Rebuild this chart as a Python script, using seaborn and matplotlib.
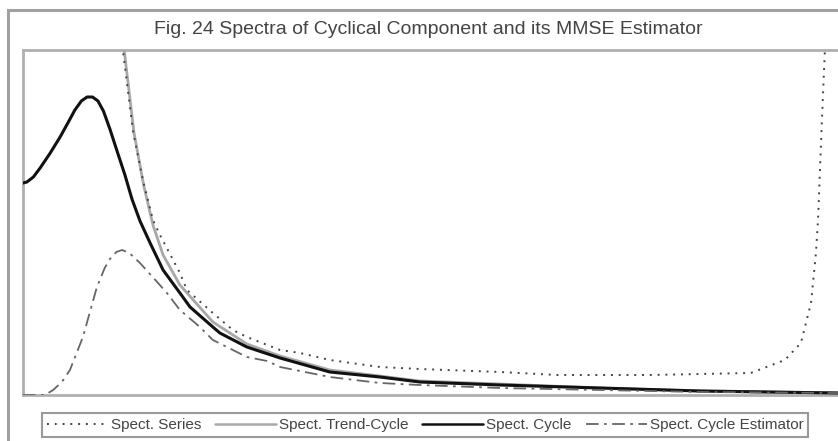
import matplotlib
matplotlib.use("Agg")
import matplotlib.pyplot as plt
import seaborn as sns
import pandas as pd
from matplotlib.patches import Rectangle
from matplotlib.lines import Line2D

# ---- data (frequency in radians, spectral density in arbitrary units) ----
series_x = [0.370, 0.385, 0.424, 0.463, 0.501, 0.528, 0.605, 0.632, 0.732, 0.809, 0.863,
            0.991, 1.068, 1.183, 1.376, 1.530, 1.839, 2.062, 2.417, 2.806, 2.937,
            2.999, 3.038, 3.057, 3.065, 3.080, 3.091, 3.100]
series_y = [4.00, 3.45, 2.64, 2.14, 1.75, 1.60, 1.22, 1.05, 0.82, 0.65, 0.58,
            0.45, 0.42, 0.35, 0.28, 0.26, 0.23, 0.20, 0.20, 0.22, 0.35,
            0.52, 0.92, 1.42, 1.75, 2.75, 3.42, 4.00]

trend_x = [0.375, 0.390, 0.428, 0.465, 0.501, 0.540, 0.605, 0.732, 0.863, 0.991,
           1.183, 1.376, 1.530, 1.839, 2.224, 2.610, 3.142]
trend_y = [4.00, 3.45, 2.62, 2.10, 1.70, 1.40, 1.10, 0.73, 0.51, 0.39,
           0.25, 0.19, 0.14, 0.11, 0.07, 0.04, 0.02]

cycle_x = [0.000, 0.015, 0.040, 0.066, 0.105, 0.143, 0.175, 0.200, 0.225, 0.247, 0.268,
           0.289, 0.310, 0.335, 0.360, 0.393, 0.420, 0.451, 0.490, 0.540, 0.605,
           0.644, 0.732, 0.759, 0.863, 0.991, 1.183, 1.376, 1.530, 1.839, 2.224,
           2.610, 3.142]
cycle_y = [2.12, 2.13, 2.18, 2.27, 2.42, 2.58, 2.73, 2.85, 2.94, 2.98, 2.98,
           2.94, 2.84, 2.66, 2.46, 2.20, 1.96, 1.74, 1.52, 1.25, 1.02,
           0.88, 0.68, 0.62, 0.48, 0.37, 0.23, 0.18, 0.13, 0.10, 0.07,
           0.04, 0.02]

est_x = [0.000, 0.085, 0.116, 0.150, 0.181, 0.231, 0.285, 0.315, 0.335, 0.360, 0.382,
         0.410, 0.451, 0.500, 0.555, 0.605, 0.682, 0.732, 0.863, 0.941, 0.991,
         1.183, 1.376, 1.530, 1.839, 2.224, 2.610, 3.142]
est_y = [0.00, 0.00, 0.05, 0.13, 0.25, 0.58, 1.08, 1.27, 1.36, 1.43, 1.45,
         1.42, 1.32, 1.18, 1.02, 0.85, 0.68, 0.55, 0.38, 0.34, 0.28,
         0.18, 0.12, 0.10, 0.07, 0.05, 0.03, 0.02]

labels = ["Spect. Series", "Spect. Trend-Cycle", "Spect. Cycle", "Spect. Cycle Estimator"]
title = "Fig. 24 Spectra of Cyclical Component and its MMSE Estimator"

sns.set_style("white")
plt.rcParams['font.family'] = ['Liberation Sans', 'DejaVu Sans']

W, H = 838, 441
fig = plt.figure(figsize=(W / 100, H / 100), dpi=100)
ax = fig.add_axes([23 / W, 1 - 395 / H, 1 - 23 / W, (395 - 50) / H])

frames = [
    (pd.DataFrame({"f": series_x, "s": series_y}), dict(color="#444444", lw=1.4, dashes=(1, 3), z=5)),
    (pd.DataFrame({"f": trend_x, "s": trend_y}), dict(color="#a8a8a8", lw=2.0, z=3)),
    (pd.DataFrame({"f": cycle_x, "s": cycle_y}), dict(color="#111111", lw=2.2, z=4)),
    (pd.DataFrame({"f": est_x, "s": est_y}), dict(color="#666666", lw=1.3, dashes=(7, 3, 1.5, 3), z=4)),
]
handles = []
for (df, st), lab in zip(frames, labels):
    kw = dict(color=st["color"], linewidth=st["lw"])
    sns.lineplot(data=df, x="f", y="s", ax=ax, sort=False, estimator=None, **kw)
    ln = ax.lines[-1]
    ln.set_zorder(st["z"])
    if "dashes" in st:
        ln.set_dashes(st["dashes"])
    h = Line2D([], [], color=st["color"], linewidth=st["lw"] if st["lw"] < 2 else 1.8)
    if "dashes" in st:
        h.set_dashes(st["dashes"])
    handles.append(h)

ax.set_xlim(0, 3.142)
ax.set_ylim(0, 3.45)
ax.set_xticks([])
ax.set_yticks([])
ax.set_xlabel("")
ax.set_ylabel("")
for side in ["left", "bottom", "top"]:
    ax.spines[side].set_color("#b0b0b0")
    ax.spines[side].set_linewidth(2.0)
ax.spines["right"].set_visible(False)

# outer frame
fig.patches.append(Rectangle((8 / W, -0.2), 1.2, 1.2 - 10 / H, transform=fig.transFigure,
                             fill=False, edgecolor="#a0a0a0", linewidth=2.2, zorder=0))

fig.text(428 / W, 1 - 30 / H, title, ha="center", va="center", fontsize=14, color="#444444")

leg = fig.legend(handles, labels, loc="center", bbox_to_anchor=(425 / W, 1 - 425 / H),
                 ncol=4, frameon=True, fancybox=False, fontsize=11, handlelength=4.0,
                 handletextpad=0.2, columnspacing=0.9, borderpad=0.3, labelcolor="#444444")
leg.get_frame().set_edgecolor("#808080")
leg.get_frame().set_linewidth(1.5)

fig.savefig("out.png", dpi=100)
